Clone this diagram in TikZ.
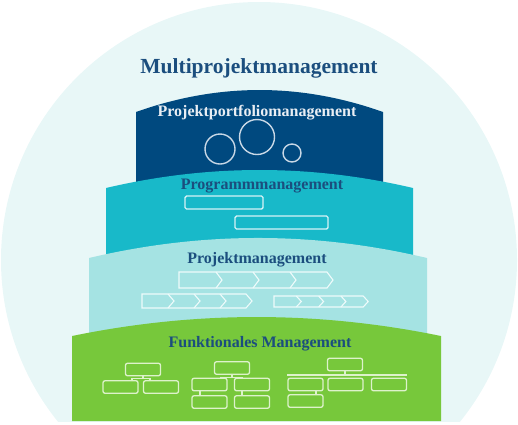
\documentclass[tikz,border=0pt]{standalone}
\usepackage{fontspec}
\setmainfont{Liberation Serif}
\usetikzlibrary{positioning}

\definecolor{bgcircle}{HTML}{E8F7F7}
\definecolor{portfolio}{HTML}{00497F}
\definecolor{programm}{HTML}{18B9C9}
\definecolor{projekt}{HTML}{A5E3E3}
\definecolor{funktion}{HTML}{77C83B}
\definecolor{textblue}{HTML}{1B4E7E}
\definecolor{textlight}{HTML}{E9EEF4}
\definecolor{bubbleline}{HTML}{C9D8E6}
\definecolor{barline}{HTML}{D6F3F6}
\definecolor{chevline}{HTML}{EEFBFB}
\definecolor{orgline}{HTML}{DDF2CB}

\begin{document}
\begin{tikzpicture}[
        x = 1pt, y = -1pt, % pixel grid, origin top left
        bandlabel/.style = {font=\bfseries\fontsize{16}{19}\selectfont, text=textblue, inner sep=0pt},
        bubble/.style = {circle, draw=bubbleline, line width=1.4pt, inner sep=0pt},
        ganttbar/.style = {draw=barline, line width=1.4pt, rounded corners=1.5pt, minimum height=13pt, inner sep=0pt},
        orgbox/.style = {draw=orgline, line width=1.3pt, rounded corners=2pt, minimum width=35pt, minimum height=12.5pt, inner sep=0pt},
        chev/.style = {draw=chevline, line width=1.1pt, line join=miter},
    ]
    \useasboundingbox (0,0) rectangle (518,424);

    % background circle, cut at the bottom
    \begin{scope}
        \clip (0,0) rectangle (518,421);
        \fill[bgcircle] (259,260) circle[radius=258];
    \end{scope}

    % the four bands, from top to bottom
    \fill[portfolio] (136,112) .. controls (218.3,82.7) and (300.7,82.7) .. (383,112) -- (383,200) -- (136,200) -- cycle;
    \fill[programm] (106,188) .. controls (208.3,164) and (310.7,164) .. (413,188) -- (413,270) -- (106,270) -- cycle;
    \fill[projekt] (89,258) .. controls (201.7,231.3) and (314.3,231.3) .. (427,258) -- (427,350) -- (89,350) -- cycle;
    \fill[funktion] (72,336) .. controls (195,310.7) and (318,310.7) .. (441,336) -- (441,421) -- (72,421) -- cycle;

    % labels
    \node[bandlabel, font=\bfseries\fontsize{21.5}{25}\selectfont] (multi) at (259,68) {Multiprojektmanagement};
    \node[bandlabel, text=textlight] (ppm) at (257,113) {Projektportfoliomanagement};
    \node[bandlabel] (pgm) at (262,186) {Programmmanagement};
    \node[bandlabel] (pm) at (257,260) {Projektmanagement};
    \node[bandlabel] (fm) at (260,344) {Funktionales Management};

    % portfolio bubbles
    \node[bubble, minimum size=30pt] (b1) at (220,149) {};
    \node[bubble, minimum size=35pt] (b2) at (257,137) {};
    \node[bubble, minimum size=18pt] (b3) at (292,153) {};

    % programme bars
    \node[ganttbar, minimum width=78pt] (g1) at (224,202.5) {};
    \node[ganttbar, minimum width=93pt] (g2) at (281.5,222.5) {};

    % project chevrons: x0, top, bottom, step, tip
    \foreach \xo/\yt/\yb/\w/\d in {179/272/288/37/6, 142/294/308/26/6, 274/296/307/22.3/5} {
        \draw[chev] (\xo,\yt) -- ({\xo+4*\w},\yt) -- ({\xo+4*\w+\d},{(\yt+\yb)/2}) -- ({\xo+4*\w},\yb) -- (\xo,\yb) -- cycle;
        \foreach \i in {1,2,3}
            \draw[chev] ({\xo+\i*\w},\yt) -- ({\xo+\i*\w+\d},{(\yt+\yb)/2}) -- ({\xo+\i*\w},\yb);
    }

    % org chart 1
    \node[orgbox] (t1) at (143,369.5) {};
    \node[orgbox] (a1) at (120.5,387) {};
    \node[orgbox] (a2) at (161,387) {};
    \draw[orgline, line width=1.1pt] (t1.south) -- ++(0,2.5) -| ([xshift=11.5pt]a1.north);
    \draw[orgline, line width=1.1pt] (t1.south) -- ++(0,2.5) -| ([xshift=-11pt]a2.north);

    % org chart 2
    \node[orgbox] (t2) at (232,368) {};
    \node[orgbox] (c1) at (209.5,384.5) {};
    \node[orgbox] (c2) at (252,384.5) {};
    \node[orgbox] (c3) at (209.5,402) {};
    \node[orgbox] (c4) at (252,402) {};
    \draw[orgline, line width=1.1pt] (t2.south) -- ++(0,2.5) -| ([xshift=11.5pt]c1.north);
    \draw[orgline, line width=1.1pt] (t2.south) -- ++(0,2.5) -| ([xshift=-10pt]c2.north);
    \draw[orgline, line width=1.1pt] ([xshift=-9.5pt]c1.south) -- ([xshift=-9.5pt]c3.north);
    \draw[orgline, line width=1.1pt] ([xshift=-10pt]c2.south) -- ([xshift=-10pt]c4.north);

    % org chart 3
    \node[orgbox] (t3) at (345,364.5) {};
    \node[orgbox] (d1) at (305.5,384.5) {};
    \node[orgbox] (d2) at (345.5,384.5) {};
    \node[orgbox] (d3) at (389,384.5) {};
    \node[orgbox] (d4) at (305.5,401) {};
    \coordinate (bar) at (0,375);
    \draw[orgline, line width=1.1pt] (d1.west |- bar) -- (d3.east |- bar);
    \draw[orgline, line width=1.1pt] (t3.south) -- (t3.south |- bar);
    \draw[orgline, line width=1.1pt] ([xshift=10.5pt]d1.south) -- ([xshift=10.5pt]d4.north);
\end{tikzpicture}
\end{document}
